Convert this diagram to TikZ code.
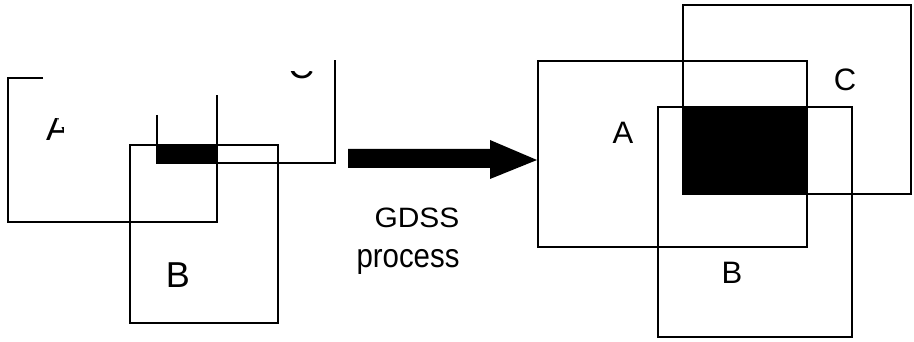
\documentclass[tikz,border=0pt]{standalone}
\usepackage{fontspec}
\setmainfont{Liberation Sans}
\begin{document}
\begin{tikzpicture}[x=1pt,y=-1pt,
  box/.style={line width=1.9pt, line join=miter},
  fillbox/.style={fill=black, draw=black, line width=1.9pt},
  biglbl/.style={inner sep=0pt, font=\fontsize{36}{36}\selectfont},
  lbl/.style={inner sep=0pt, font=\fontsize{31}{31}\selectfont},
  caption/.style={inner sep=0pt, font=\fontsize{28}{28}\selectfont}]
\useasboundingbox[fill=white] (0,0) rectangle (914,342);
% ---------- left (before) ----------
\fill[fillbox] (157,145) rectangle (217,163);
\draw[box] (43,78) -- (8,78) -- (8,222) -- (217,222) -- (217,95);
\draw[box] (157,115) -- (157,163) -- (335,163) -- (335,60);
\draw[box] (130,145) rectangle (278,323);
\node[biglbl] (LB) at (178,275) {B};
\begin{scope}
  \clip (0,118) rectangle (58.5,160) (0,127) rectangle (63,160);
  \node[biglbl, anchor=base west] (LA) at (46,141) {A};
\end{scope}
\begin{scope}
  \clip (270,72) rectangle (330,90);
  \node[biglbl, anchor=base] (LC) at (301,79) {C};
\end{scope}
% ---------- arrow ----------
\fill (348,149) -- (490,149) -- (490,140) -- (537,160) -- (490,179) -- (490,168) -- (348,168) -- cycle;
\node[caption, anchor=base] (t1) at (417,228) {\scalebox{1.07}[1]{GDSS}};
\node[caption, anchor=base] (t2) at (408,267) {\scalebox{1.05}[1.2]{process}};
% ---------- right (after) ----------
\fill[fillbox] (683,107) rectangle (807,194);
\draw[box] (538,61) rectangle (807,247);
\draw[box] (683,5) rectangle (911,194);
\draw[box] (658,107) rectangle (852,337);
\node[lbl] (RA) at (623,133) {A};
\node[lbl] (RC) at (845,80) {C};
\node[lbl] (RB) at (732,273) {B};
\end{tikzpicture}
\end{document}
